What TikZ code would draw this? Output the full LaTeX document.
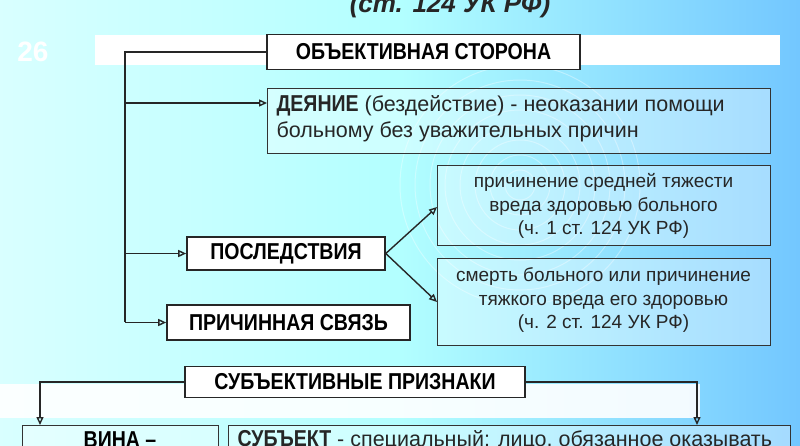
\documentclass[tikz,border=0pt]{standalone}
\usepackage{fontspec}
\setmainfont{Liberation Sans}
\newfontfamily\narrowb[FakeStretch=0.85]{Liberation Sans}
\usetikzlibrary{arrows.meta}
\begin{document}
\begin{tikzpicture}[x=1pt,y=-1pt,
  hdr/.style={draw=black!85,line width=1.6pt,fill=white,font=\narrowb\bfseries\fontsize{23}{25}\selectfont,inner sep=2pt},
  info/.style={draw=black!80,line width=1.3pt,fill=white,fill opacity=0.35,text opacity=1,anchor=north west,inner sep=0pt},
  con/.style={line width=1.4pt,black!85},
  arr/.style={con,-{Triangle[open,length=8pt,width=7pt]}},
  txt/.style={font=\fontsize{21.5}{26}\selectfont,text=black!85},
  smalltxt/.style={font=\fontsize{19}{23.5}\selectfont,text=black!85,align=center}]
\useasboundingbox (0,0) rectangle (800,445);
\shade[left color=cyan!15,right color=blue!40!cyan!55,middle color=cyan!30] (0,0) rectangle (800,445);
\foreach \r in {15,30,...,120}{\draw[white,opacity=0.35,line width=1pt] (520,185) circle (\r);}
\fill[white] (95,35) rectangle (780,65);
\fill[white,opacity=0.9] (0,384) rectangle (700,418);
\node[font=\bfseries\itshape\fontsize{26}{28}\selectfont,text=black!85] (title) at (450,6) {(ст. 124 УК РФ)};
\node[font=\bfseries\fontsize{28}{30}\selectfont,text=white] (num) at (33,52) {26};
% objective
\node[hdr,minimum width=313pt,minimum height=35pt] (obj) at (423.5,52) {ОБЪЕКТИВНАЯ СТОРОНА};
\node[info,minimum width=503pt,minimum height=65pt] (act) at (267,88) {};
\node[txt,anchor=north west,align=left] (actt) at (273,92) {{\narrowb\bfseries\fontsize{23}{26}\selectfont ДЕЯНИЕ} (бездействие) - неоказании помощи\\больному без уважительных причин};
\node[hdr,minimum width=198pt,minimum height=33pt] (cons) at (286,253.5) {ПОСЛЕДСТВИЯ};
\node[hdr,minimum width=243pt,minimum height=35pt] (link) at (288.5,322.5) {ПРИЧИННАЯ СВЯЗЬ};
\node[info,minimum width=333pt,minimum height=80pt] (c1) at (437,165) {};
\node[smalltxt] (c1t) at (603.5,206) {причинение средней тяжести\\вреда здоровью больного\\(ч. 1 ст. 124 УК РФ)};
\node[info,minimum width=333pt,minimum height=87pt] (c2) at (437,258) {};
\node[smalltxt] (c2t) at (603.5,300) {смерть больного или причинение\\тяжкого вреда его здоровью\\(ч. 2 ст. 124 УК РФ)};
\coordinate (tr) at (125,52);
\draw[con] (obj.west) -- (tr) -- (125,322);
\draw[arr] (125,103) -- (act.west |- 0,103);
\draw[arr] (125,253.5) -- (cons.west);
\draw[arr] (125,322.5) -- (link.west);
\draw[arr] (cons.east) -- (c1.west |- 0,207);
\draw[arr] (cons.east) -- (c2.west |- 0,302);
% subjective
\node[hdr,minimum width=340pt,minimum height=31pt] (subj) at (355,382) {СУБЪЕКТИВНЫЕ ПРИЗНАКИ};
\node[info,minimum width=196pt,minimum height=40pt] (vina) at (22,425) {};
\node[info,minimum width=562pt,minimum height=40pt] (sub) at (228,425) {};
\node[font=\narrowb\bfseries\fontsize{23}{25}\selectfont,anchor=north] (vinat) at (120,428) {ВИНА –};
\node[txt,anchor=north west] (subt) at (234,427) {{\narrowb\bfseries\fontsize{23}{25}\selectfont СУБЪЕКТ} - специальный: лицо, обязанное оказывать};
\draw[arr] (subj.west) -- (40,382) -- (vina.north -| 40,0);
\draw[arr] (subj.east) -- (697,382) -- (sub.north -| 697,0);
\end{tikzpicture}
\end{document}
